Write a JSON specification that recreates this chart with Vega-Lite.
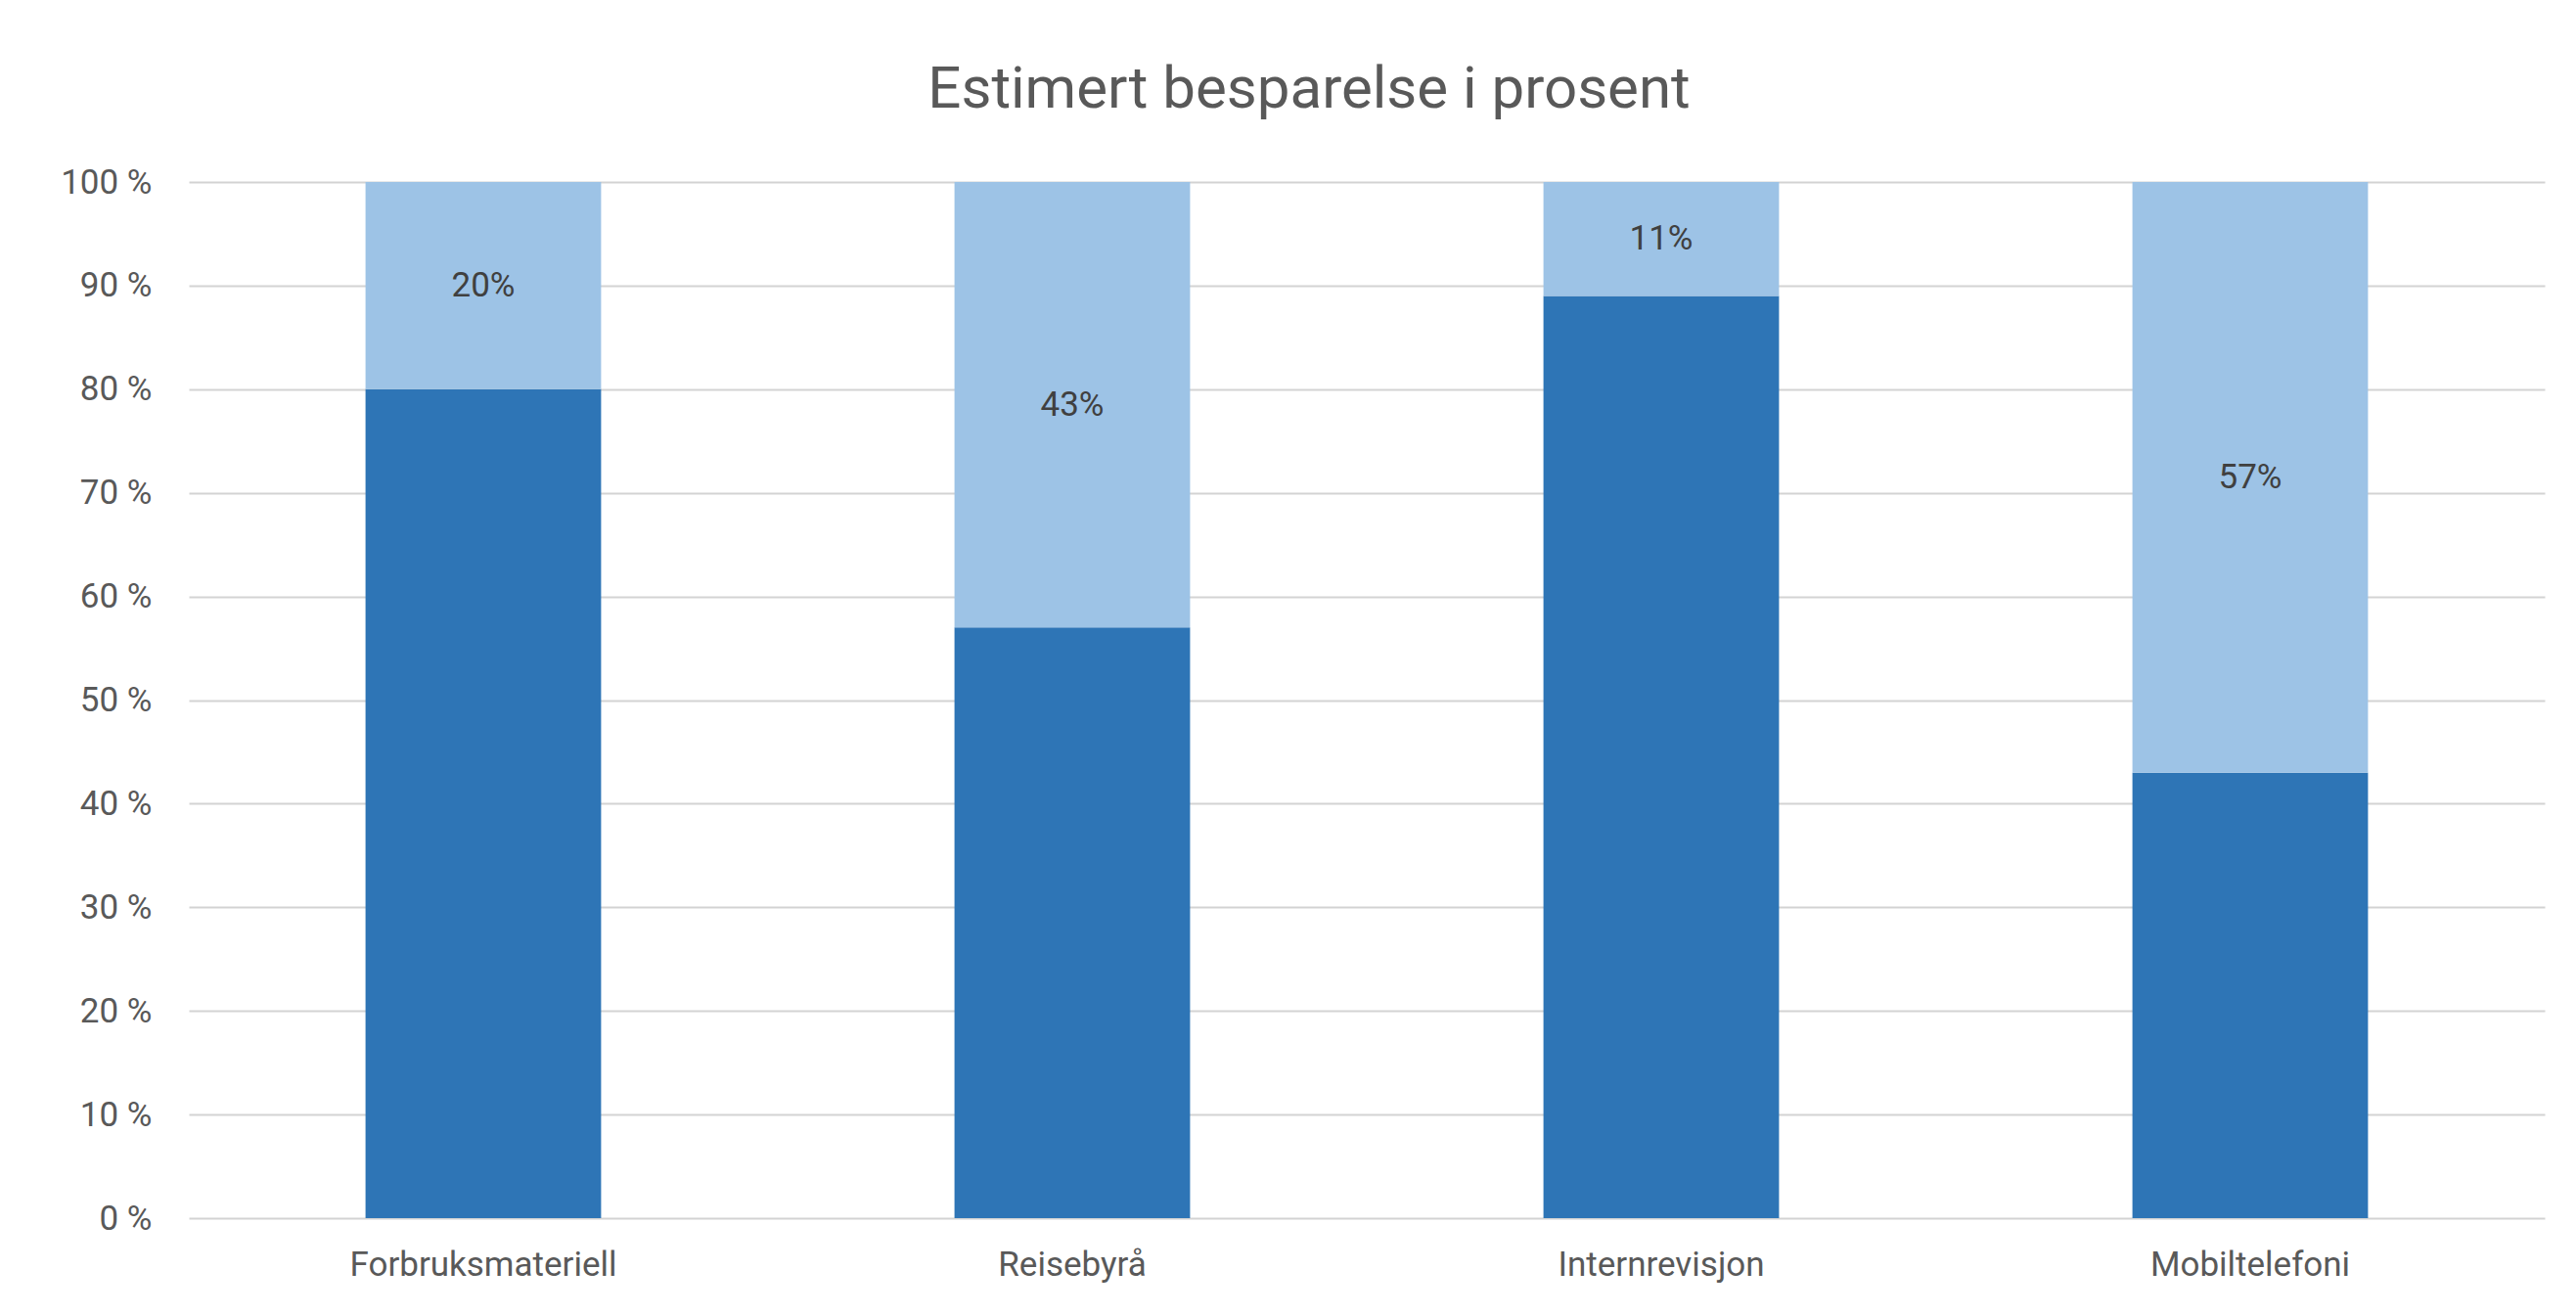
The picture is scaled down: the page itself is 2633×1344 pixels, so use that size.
{
  "$schema": "https://vega.github.io/schema/vega-lite/v6.json",
  "width": 2408,
  "height": 1059,
  "autosize": {"type": "none"},
  "padding": {"left": 193, "top": 186, "right": 32, "bottom": 99},
  "background": "white",
  "title": {
    "text": "Estimert besparelse i prosent",
    "font": "Roboto, sans-serif",
    "fontSize": 60,
    "fontWeight": "normal",
    "color": "#595959",
    "anchor": "middle",
    "frame": "group",
    "dx": -59,
    "offset": 46
  },
  "data": {
    "values": [
      {"kategori": "Forbruksmateriell", "serie": "Gjenstående", "verdi": 80},
      {"kategori": "Forbruksmateriell", "serie": "Besparelse", "verdi": 20},
      {"kategori": "Reisebyrå", "serie": "Gjenstående", "verdi": 57},
      {"kategori": "Reisebyrå", "serie": "Besparelse", "verdi": 43},
      {"kategori": "Internrevisjon", "serie": "Gjenstående", "verdi": 89},
      {"kategori": "Internrevisjon", "serie": "Besparelse", "verdi": 11},
      {"kategori": "Mobiltelefoni", "serie": "Gjenstående", "verdi": 43},
      {"kategori": "Mobiltelefoni", "serie": "Besparelse", "verdi": 57}
    ]
  },
  "transform": [
    {"stack": "verdi", "groupby": ["kategori"], "sort": [{"field": "serie", "order": "descending"}], "as": ["y0", "y1"]},
    {"calculate": "(datum.y0 + datum.y1) / 2", "as": "midt"},
    {"calculate": "datum.verdi + '%'", "as": "etikett"}
  ],
  "encoding": {
    "x": {
      "field": "kategori",
      "type": "nominal",
      "sort": null,
      "scale": {"paddingInner": 0.6, "paddingOuter": 0.3},
      "axis": {
        "title": null,
        "labelAngle": 0,
        "labelLimit": 0,
        "labelFont": "Roboto, sans-serif",
        "labelFontSize": 35,
        "labelColor": "#595959",
        "labelPadding": 30,
        "ticks": false,
        "domain": false,
        "grid": false
      }
    }
  },
  "layer": [
    {
      "mark": {"type": "bar"},
      "encoding": {
        "y": {
          "field": "y0",
          "type": "quantitative",
          "scale": {"domain": [0, 100], "nice": false},
          "axis": {
            "title": null,
            "values": [0, 10, 20, 30, 40, 50, 60, 70, 80, 90, 100],
            "labelExpr": "datum.value + ' %'",
            "labelFont": "Roboto, sans-serif",
            "labelFontSize": 35,
            "labelColor": "#595959",
            "labelPadding": 38,
            "ticks": false,
            "domain": false,
            "grid": true,
            "gridColor": "#D3D3D3",
            "gridWidth": 2
          }
        },
        "y2": {"field": "y1"},
        "color": {
          "field": "serie",
          "type": "nominal",
          "scale": {"domain": ["Gjenstående", "Besparelse"], "range": ["#2E75B6", "#9DC3E6"]},
          "legend": null
        }
      }
    },
    {
      "transform": [{"filter": "datum.serie == 'Besparelse'"}],
      "mark": {
        "type": "text",
        "font": "Roboto, sans-serif",
        "fontSize": 35,
        "color": "#404040",
        "baseline": "middle",
        "align": "center"
      },
      "encoding": {
        "y": {"field": "midt", "type": "quantitative"},
        "text": {"field": "etikett"}
      }
    }
  ],
  "config": {"view": {"stroke": null}}
}
